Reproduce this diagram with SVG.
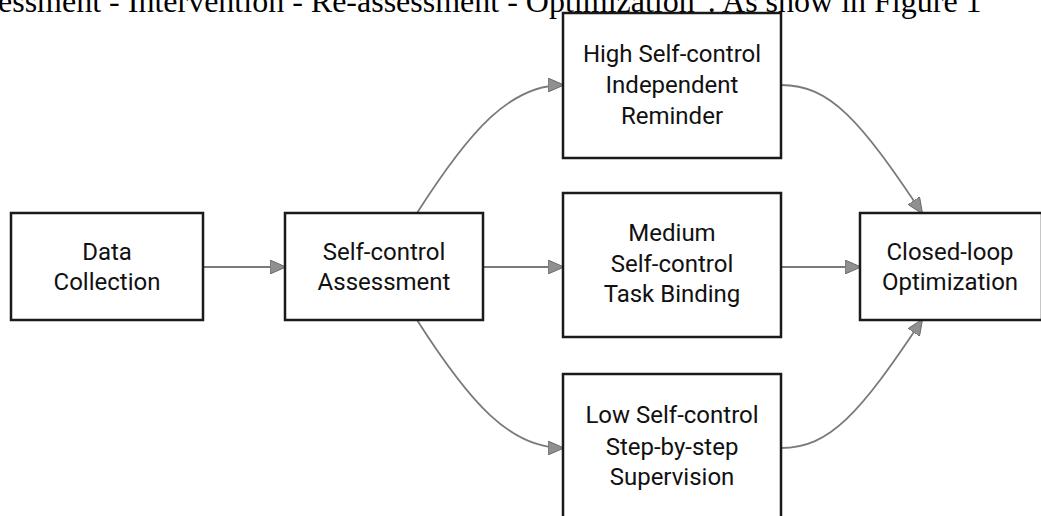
<svg xmlns="http://www.w3.org/2000/svg" width="1041" height="516" viewBox="0 0 1041 516">
<style>
.box{fill:#fff;stroke:#1a1a1a;stroke-width:2.5}
.lbl{font-family:Roboto,"Liberation Sans",sans-serif;font-size:24px;fill:#111;text-anchor:middle}
.con{fill:none;stroke:#7a7a7a;stroke-width:1.8}
.hdr{font-family:"Liberation Serif",serif;font-size:32px;fill:#000}
</style>
<defs>
<marker id="ah" markerWidth="16" markerHeight="14" refX="15" refY="7" orient="auto" markerUnits="userSpaceOnUse">
<path d="M0,0 L16,7 L0,14 Z" fill="#909090" stroke="#6a6a6a" stroke-width="1"/>
</marker>
</defs>
<rect width="1041" height="516" fill="#fff"/>
<text class="hdr" x="-2" y="12">essment - Intervention - Re-assessment - Optimization". As show in Figure 1</text>
<g id="connectors">
<path class="con" d="M203,267 L285,267" marker-end="url(#ah)"/>
<path class="con" d="M483,267 L563,267" marker-end="url(#ah)"/>
<path class="con" d="M781,267 L860,267" marker-end="url(#ah)"/>
<path class="con" d="M417,213 C470,130 510,85 563,85" marker-end="url(#ah)"/>
<path class="con" d="M417,320 C470,403 510,448 563,448" marker-end="url(#ah)"/>
<path class="con" d="M781,85 C830,85 860,120 922,213" marker-end="url(#ah)"/>
<path class="con" d="M781,448 C830,448 860,413 922,320" marker-end="url(#ah)"/>
</g>
<g id="data">
<rect class="box" x="11" y="213" width="192" height="107"/>
<text class="lbl" x="107" y="260">Data</text>
<text class="lbl" x="107" y="290">Collection</text>
</g>
<g id="assess">
<rect class="box" x="285" y="213" width="198" height="107"/>
<text class="lbl" x="384" y="260">Self-control</text>
<text class="lbl" x="384" y="290">Assessment</text>
</g>
<g id="high">
<rect class="box" x="563" y="13" width="218" height="145"/>
<text class="lbl" x="672" y="62">High Self-control</text>
<text class="lbl" x="672" y="93">Independent</text>
<text class="lbl" x="672" y="124">Reminder</text>
</g>
<g id="medium">
<rect class="box" x="563" y="193" width="218" height="144"/>
<text class="lbl" x="672" y="241">Medium</text>
<text class="lbl" x="672" y="272">Self-control</text>
<text class="lbl" x="672" y="302">Task Binding</text>
</g>
<g id="low">
<rect class="box" x="563" y="374" width="218" height="160"/>
<text class="lbl" x="672" y="423">Low Self-control</text>
<text class="lbl" x="672" y="455">Step-by-step</text>
<text class="lbl" x="672" y="485">Supervision</text>
</g>
<g id="closed">
<rect class="box" x="860" y="213" width="182" height="107"/>
<text class="lbl" x="950" y="260">Closed-loop</text>
<text class="lbl" x="950" y="290">Optimization</text>
</g>
</svg>
